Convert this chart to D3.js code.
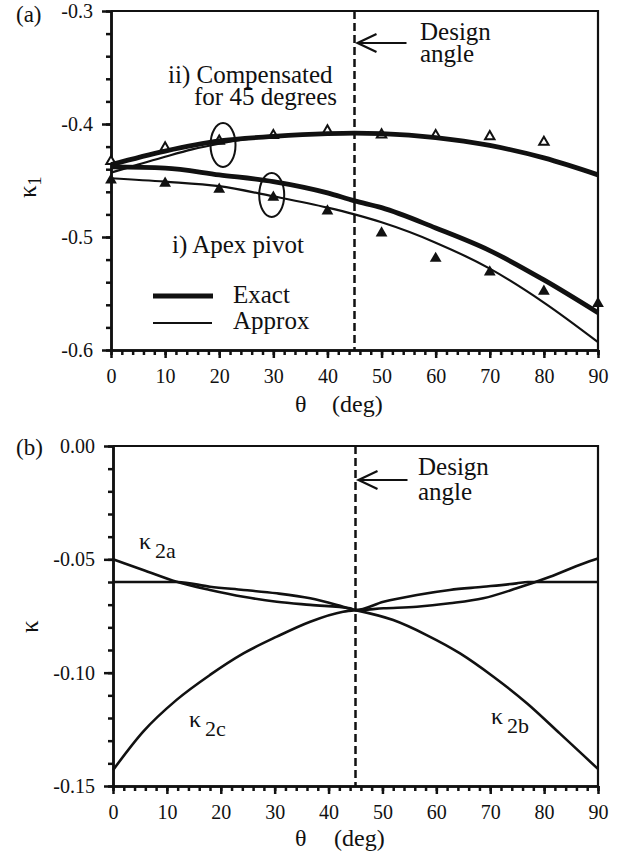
<!DOCTYPE html>
<html>
<head>
<meta charset="utf-8">
<script src="https://cdn.jsdelivr.net/npm/d3@7"></script>
<style>
body { margin: 0; background: #fff; }
.axis path, .axis line { stroke: #111; stroke-width: 2.5; }
</style>
</head>
<body>
<svg id="chart" width="622" height="854"></svg>
<script>
// ---- panel (a) data ----
var thetaA = [0, 10, 20, 30, 40, 45, 50, 60, 70, 80, 90];
var apexExact  = [-0.438, -0.439, -0.445, -0.451, -0.461, -0.468, -0.474, -0.492, -0.512, -0.538, -0.567];
var apexApprox = [-0.448, -0.451, -0.455, -0.464, -0.474, -0.480, -0.487, -0.505, -0.528, -0.558, -0.593];
var compExact  = [-0.436, -0.424, -0.415, -0.411, -0.4085, -0.408, -0.4085, -0.412, -0.419, -0.430, -0.445];
var thetaCompApprox = [0, 5, 10, 15, 20, 25, 30, 40, 45, 50, 60, 70, 80, 90];
var compApprox = [-0.443, -0.436, -0.429, -0.4225, -0.4175, -0.4135, -0.411, -0.4085, -0.408, -0.4085, -0.412, -0.419, -0.430, -0.445];

var thetaApexPts = [0, 10, 20, 30, 40, 50, 60, 70, 80, 90];
var apexPts = [-0.4496, -0.4525, -0.4578, -0.4649, -0.477, -0.4965, -0.519, -0.531, -0.548, -0.559];
var thetaCompPts = [0, 10, 20, 30, 40, 50, 60, 70, 80];
var compPts = [-0.433, -0.421, -0.415, -0.410, -0.406, -0.4095, -0.410, -0.411, -0.416];

var ovalTheta = [20.7, 29.7];
var ovalK = [-0.4186, -0.4628];

var xTicks = [0, 10, 20, 30, 40, 50, 60, 70, 80, 90];
var yTicksA = [-0.3, -0.4, -0.5, -0.6];
var designAngle = 45;

// ---- panel (b) data ----
var theta2a = [0, 5.6, 11.8, 18, 24.2, 30.4, 36.6, 44, 45, 50.2, 56.4, 62.5, 68.7, 74.9, 81.1, 87.3, 90];
var k2a = [-0.050, -0.0547, -0.0599, -0.0635, -0.0665, -0.0687, -0.0701, -0.0716, -0.0724, -0.0716, -0.0709, -0.0694, -0.0672, -0.0628, -0.0577, -0.0518, -0.0496];
var thetaFlat = [0, 12, 18, 24.2, 30.4, 36.6, 42.7, 45, 50.2, 56.4, 62.5, 68.7, 74.9, 77, 90];
var kFlat = [-0.060, -0.060, -0.0621, -0.0635, -0.065, -0.0672, -0.0709, -0.0724, -0.0687, -0.0657, -0.0635, -0.0621, -0.0606, -0.060, -0.060];
var theta2c = [0, 5.6, 11.8, 18, 24.2, 30.4, 36.6, 42.7, 45];
var k2c = [-0.143, -0.126, -0.112, -0.101, -0.0915, -0.0841, -0.0775, -0.0731, -0.0724];
var theta2b = [45, 52, 58.2, 64.4, 70.6, 76.8, 82.9, 87.3, 90];
var k2b = [-0.0724, -0.0768, -0.0834, -0.0915, -0.1018, -0.1135, -0.1268, -0.1365, -0.1425];
var yTicksB = [0, -0.05, -0.10, -0.15];

var FONT = "'Liberation Serif'";

var svg = d3.select("#chart");

function zip(xs, ys) {
  return xs.map(function(x, i) { return [x, ys[i]]; });
}

function drawFrame(x, y, yTicks, yMinor, fmt) {
  var g = svg.append("g");
  var r = x.range(), t = y.range();
  // top and right border
  g.append("path")
    .attr("d", "M" + r[0] + "," + t[1] + "H" + r[1] + "V" + t[0])
    .attr("fill", "none").attr("stroke", "#111").attr("stroke-width", 2.2);

  g.append("g").attr("class", "axis")
    .attr("transform", "translate(0," + t[0] + ")")
    .call(d3.axisBottom(x).tickValues(d3.range(0, 91, 2)).tickSize(5).tickFormat("").tickSizeOuter(0));
  g.append("g").attr("class", "axis")
    .attr("transform", "translate(0," + t[0] + ")")
    .call(d3.axisBottom(x).tickValues(xTicks).tickSize(8).tickPadding(11).tickSizeOuter(0));

  g.append("g").attr("class", "axis")
    .attr("transform", "translate(" + r[0] + ",0)")
    .call(d3.axisLeft(y).tickValues(yMinor).tickSize(5).tickFormat("").tickSizeOuter(0));
  g.append("g").attr("class", "axis")
    .attr("transform", "translate(" + r[0] + ",0)")
    .call(d3.axisLeft(y).tickValues(yTicks).tickSize(9).tickPadding(9).tickSizeOuter(0).tickFormat(fmt));

  g.selectAll(".axis text").style("font-family", FONT).style("font-size", "20px").attr("fill", "#111");

  // design angle
  g.append("line")
    .attr("x1", x(designAngle)).attr("x2", x(designAngle))
    .attr("y1", t[1]).attr("y2", t[0])
    .attr("stroke", "#111").attr("stroke-width", 2.5)
    .attr("stroke-dasharray", "8,4");
  return g;
}

function arrow(x0, y0) {
  svg.append("path")
    .attr("d", "M" + (x0 + 52) + "," + y0 + "H" + (x0 + 3) +
               "M" + (x0 + 22) + "," + (y0 - 9) + "L" + (x0 + 3) + "," + y0 + "L" + (x0 + 22) + "," + (y0 + 9))
    .attr("fill", "none").attr("stroke", "#111").attr("stroke-width", 2.2);
}

function label(x, y, str, size) {
  svg.append("text").attr("x", x).attr("y", y)
    .style("font-family", FONT).style("font-size", (size || 25) + "px")
    .attr("fill", "#111").text(str);
}

// ===== panel (a) =====
var xA = d3.scaleLinear().domain([0, 90]).range([111, 598]);
var yA = d3.scaleLinear().domain([-0.6, -0.3]).range([350, 11]);
drawFrame(xA, yA, yTicksA, d3.range(-0.6, -0.299, 0.02), function(d) { return d.toFixed(1); });

var lineA = d3.line().x(function(d) { return xA(d[0]); }).y(function(d) { return yA(d[1]); }).curve(d3.curveMonotoneX);

// open markers first so thick curve runs over them
svg.append("g").selectAll("path")
  .data(zip(thetaCompPts, compPts)).enter()
  .append("path")
  .attr("transform", function(d) { return "translate(" + xA(d[0]) + "," + yA(d[1]) + ")"; })
  .attr("d", d3.symbol().type(d3.symbolTriangle).size(38))
  .attr("fill", "#fff").attr("stroke", "#111").attr("stroke-width", 2);

svg.append("path").datum(zip(thetaCompApprox, compApprox))
  .attr("d", lineA).attr("fill", "none").attr("stroke", "#111").attr("stroke-width", 2.2);
svg.append("path").datum(zip(thetaA, apexApprox))
  .attr("d", lineA).attr("fill", "none").attr("stroke", "#111").attr("stroke-width", 2.2);
svg.append("path").datum(zip(thetaA, compExact))
  .attr("d", lineA).attr("fill", "none").attr("stroke", "#111").attr("stroke-width", 4.8);
svg.append("path").datum(zip(thetaA, apexExact))
  .attr("d", lineA).attr("fill", "none").attr("stroke", "#111").attr("stroke-width", 4.8);

svg.append("g").selectAll("path")
  .data(zip(thetaApexPts, apexPts)).enter()
  .append("path")
  .attr("transform", function(d) { return "translate(" + xA(d[0]) + "," + yA(d[1]) + ")"; })
  .attr("d", d3.symbol().type(d3.symbolTriangle).size(60))
  .attr("fill", "#111");

svg.append("g").selectAll("ellipse")
  .data(zip(ovalTheta, ovalK)).enter()
  .append("ellipse")
  .attr("cx", function(d) { return xA(d[0]); })
  .attr("cy", function(d) { return yA(d[1]); })
  .attr("rx", 12.5).attr("ry", 22)
  .attr("fill", "none").attr("stroke", "#111").attr("stroke-width", 2);

label(16, 22, "(a)", 23);
label(168, 83, "ii) Compensated");
label(194, 105, "for 45 degrees");
label(172, 253, "i) Apex pivot");
label(420, 40, "Design");
label(420, 62, "angle");
arrow(xA(designAngle), 43);

// legend
svg.append("line").attr("x1", 153).attr("x2", 213).attr("y1", 296).attr("y2", 296)
  .attr("stroke", "#111").attr("stroke-width", 4.8);
svg.append("line").attr("x1", 153).attr("x2", 212).attr("y1", 323).attr("y2", 323)
  .attr("stroke", "#111").attr("stroke-width", 2.2);
label(233, 303, "Exact");
label(233, 329, "Approx");

// axis titles
svg.append("text").attr("transform", "translate(36,198) rotate(-90)")
  .style("font-family", FONT).style("font-size", "25px").attr("fill", "#111")
  .call(function(t) {
    t.append("tspan").text("κ");
    t.append("tspan").attr("dy", 5).style("font-size", "18px").text("1");
  });
svg.append("text").attr("y", 412)
  .style("font-family", FONT).style("font-size", "24px").attr("fill", "#111")
  .call(function(t) {
    t.append("tspan").attr("x", 295).text("θ");
    t.append("tspan").attr("x", 332).text("(deg)");
  });

// ===== panel (b) =====
var xB = d3.scaleLinear().domain([0, 90]).range([113, 598]);
var yB = d3.scaleLinear().domain([-0.15, 0]).range([786, 446]);
drawFrame(xB, yB, yTicksB, d3.range(-0.15, 0.0001, 0.01), function(d) { return d.toFixed(2); });

var lineB = d3.line().x(function(d) { return xB(d[0]); }).y(function(d) { return yB(d[1]); }).curve(d3.curveMonotoneX);
[[theta2a, k2a], [thetaFlat, kFlat], [theta2c, k2c], [theta2b, k2b]].forEach(function(s) {
  svg.append("path").datum(zip(s[0], s[1]))
    .attr("d", lineB).attr("fill", "none").attr("stroke", "#111").attr("stroke-width", 2.6);
});

label(16, 455, "(b)", 23);
label(418, 475, "Design");
label(418, 500, "angle");
arrow(xB(designAngle), 480);

function kappa(x, y, sub) {
  svg.append("text").attr("x", x).attr("y", y)
    .style("font-family", FONT).style("font-size", "24px").attr("fill", "#111")
    .call(function(t) {
      t.append("tspan").text("κ");
      t.append("tspan").attr("dx", 4).attr("dy", 9).style("font-size", "22px").text(sub);
    });
}
kappa(139, 549, "2a");
kappa(189, 727, "2c");
kappa(491, 724, "2b");

svg.append("text").attr("transform", "translate(38,633) rotate(-90)")
  .style("font-family", FONT).style("font-size", "25px").attr("fill", "#111").text("κ");
svg.append("text").attr("y", 846)
  .style("font-family", FONT).style("font-size", "24px").attr("fill", "#111")
  .call(function(t) {
    t.append("tspan").attr("x", 295).text("θ");
    t.append("tspan").attr("x", 334).text("(deg)");
  });
</script>
</body>
</html>
